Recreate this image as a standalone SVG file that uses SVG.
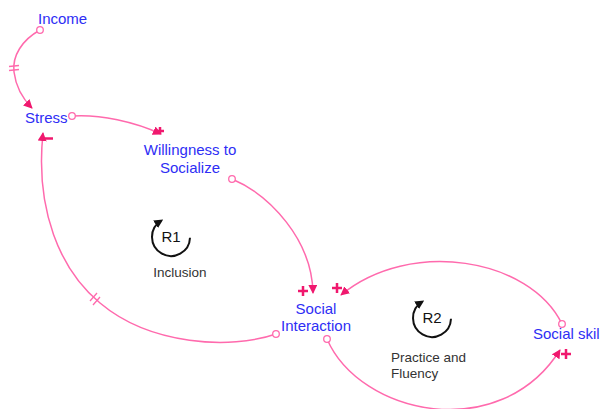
<svg xmlns="http://www.w3.org/2000/svg" width="603" height="409" viewBox="0 0 603 409">
  <defs>
    <marker id="arrow" viewBox="0 0 10 10" refX="9" refY="5" markerWidth="9" markerHeight="9" markerUnits="userSpaceOnUse" orient="auto">
      <path d="M0,0 L10,5 L0,10 Z" fill="#f0186e"/>
    </marker>
    <marker id="loopArrow" viewBox="0 0 10 10" refX="7" refY="5" markerWidth="9" markerHeight="9" markerUnits="userSpaceOnUse" orient="auto">
      <path d="M0,0 L10,5 L0,10 Z" fill="#111"/>
    </marker>
  </defs>
  <style>
    .var { font-family: "Liberation Sans", Arial, sans-serif; font-size: 15px; fill: #2e2ef5; }
    .loop { font-family: "Liberation Sans", Arial, sans-serif; font-size: 13.5px; fill: #333; }
    .loopid { font-family: "Liberation Sans", Arial, sans-serif; font-size: 15px; fill: #111; }
    .link { fill: none; stroke: #ff6aad; stroke-width: 1.5; marker-end: url(#arrow); }
    .tail { fill: #fff; stroke: #ff6aad; stroke-width: 1.3; }
    .pol { stroke: #f0186e; stroke-width: 2.5; fill: none; }
    .delay { stroke: #ff6aad; stroke-width: 1.3; fill: none; }
    .loopArc { fill: none; stroke: #111; stroke-width: 2; marker-end: url(#loopArrow); }
  </style>
  <rect width="603" height="409" fill="#fff"/>

  <!-- causal links -->
  <g id="links">
    <!-- Income -> Stress (delayed) -->
    <path class="link" d="M40,30 C22,40 12,56 14,72 C16,88 24,100 32,108"/>
    <circle class="tail" cx="40" cy="30" r="3.3"/>
    <path class="delay" d="M9,66.5 L19,65.5 M9,70.5 L19,69.5"/>

    <!-- Stress -> Willingness to Socialize -->
    <path class="link" d="M72,116 C100,114 135,122 161,134"/>
    <circle class="tail" cx="72" cy="116" r="3.3"/>
    <path class="pol" d="M155,131 L164,131 M160,127 L160,134"/>

    <!-- Willingness to Socialize -> Social Interaction -->
    <path class="link" d="M232,179 C270,195 312,240 313,293"/>
    <circle class="tail" cx="232" cy="179" r="3.3"/>
    <path class="pol" d="M298,291 L308,291 M303,286 L303,296"/>

    <!-- Social Interaction -> Stress (delayed) -->
    <path class="link" d="M276,334 C230,350 150,345 100,303 C60,270 35,210 43,133"/>
    <circle class="tail" cx="276" cy="334" r="3.3"/>
    <path class="pol" d="M45,138.5 L53,138.5"/>
    <path class="delay" d="M90,301 L97,293 M93,305 L100,297"/>

    <!-- Social skil -> Social Interaction -->
    <path class="link" d="M562,324 C530,258 410,238 341,295"/>
    <circle class="tail" cx="562" cy="324" r="3.3"/>
    <path class="pol" d="M332,288 L342,288 M337,283 L337,293"/>

    <!-- Social Interaction -> Social skil -->
    <path class="link" d="M327,339 C360,415 500,445 560,350"/>
    <circle class="tail" cx="327" cy="339" r="3.3"/>
    <path class="pol" d="M561,354 L571,354 M566,349 L566,359"/>
  </g>

  <!-- variables -->
  <g id="income"><text class="var" x="38" y="24">Income</text></g>
  <g id="stress"><text class="var" x="25" y="123">Stress</text></g>
  <g id="willingness">
    <text class="var" x="190" y="155" text-anchor="middle">Willingness to</text>
    <text class="var" x="190" y="173" text-anchor="middle">Socialize</text>
  </g>
  <g id="social-interaction">
    <text class="var" x="316" y="314" text-anchor="middle">Social</text>
    <text class="var" x="316" y="331" text-anchor="middle">Interaction</text>
  </g>
  <g id="social-skil"><text class="var" x="533" y="339">Social skil</text></g>

  <!-- loop R1 -->
  <g id="loop-r1">
    <path class="loopArc" d="M190,237.7 A19,19 0 1 1 160.9,220.9"/>
    <text class="loopid" x="171" y="242" text-anchor="middle">R1</text>
    <text class="loop" x="180" y="277" text-anchor="middle">Inclusion</text>
  </g>

  <!-- loop R2 -->
  <g id="loop-r2">
    <path class="loopArc" d="M451,318.7 A19,19 0 1 1 421.9,301.9"/>
    <text class="loopid" x="432" y="323" text-anchor="middle">R2</text>
    <text class="loop" x="391" y="362">Practice and</text>
    <text class="loop" x="391" y="378">Fluency</text>
  </g>
</svg>
